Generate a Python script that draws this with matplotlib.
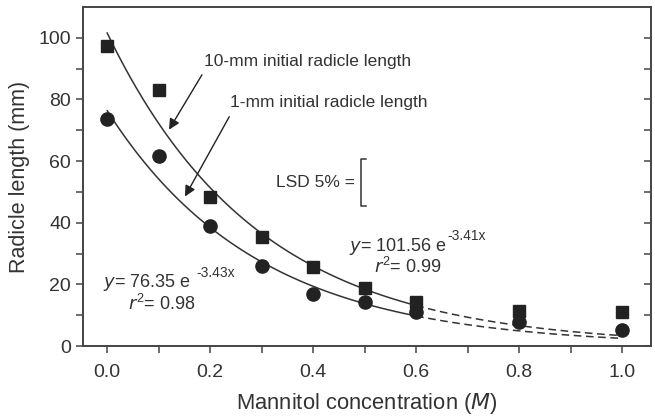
import numpy as np
import matplotlib
matplotlib.use("Agg")
import matplotlib.pyplot as plt

plt.rcParams['font.family'] = ['Liberation Sans', 'DejaVu Sans']

# Mannitol concentration (M)
conc = [0.0, 0.1, 0.2, 0.3, 0.4, 0.5, 0.6, 0.8, 1.0]
# radicle length (mm), 10-mm initial radicle
len_10mm = [97.5, 83.2, 48.2, 35.3, 25.6, 18.8, 14.2, 11.2, 11.0]
# radicle length (mm), 1-mm initial radicle
len_1mm = [73.8, 61.5, 38.8, 25.9, 16.8, 14.2, 11.0, 7.8, 5.2]

# exponential fits y = a * exp(b x) printed on the chart
fit_10mm = [101.56, -3.41]
fit_1mm = [76.35, -3.43]
fit_end = 0.6   # solid up to here, dashed beyond
lsd = 15.2

grey = '#333333'

fig = plt.figure(figsize=(6.55, 4.19), dpi=100)
ax = fig.add_axes([83/655, (419-346)/419, (651-83)/655, (346-7)/419])

# fitted curves
for a, b in (fit_10mm, fit_1mm):
    xs = np.linspace(0, fit_end, 100)
    ax.plot(xs, a*np.exp(b*xs), color=grey, lw=1.1)
    xd = np.linspace(fit_end, 1.0, 60)
    ax.plot(xd, a*np.exp(b*xd), color=grey, lw=1.1, ls=(0, (5, 3)))

ax.plot(conc, len_10mm, 's', color='#222222', ms=8.8, mec='#222222')
ax.plot(conc, len_1mm, 'o', color='#222222', ms=9.5, mec='#222222')

ax.set_xlim(-0.047, 1.056)
ax.set_ylim(0, 110)
ax.set_xticks([0, 0.2, 0.4, 0.6, 0.8, 1.0])
ax.set_xticklabels(['0.0', '0.2', '0.4', '0.6', '0.8', '1.0'])
ax.set_xticks(np.arange(0.1, 1.0, 0.2), minor=True)
ax.set_yticks([0, 20, 40, 60, 80, 100])
ax.set_yticks([10, 30, 50, 70, 90], minor=True)

for s in ax.spines.values():
    s.set_color('#444444')
    s.set_linewidth(1.4)

ax.tick_params(which='both', direction='out', length=5, width=1.1, color='#444444',
               labelsize=14, labelcolor=grey, top=False, right=False)
ax.tick_params(axis='x', pad=8)

# inward ticks on the right spine
ax2 = ax.twinx()
ax2.set_ylim(ax.get_ylim())
ax2.set_yticks([0, 20, 40, 60, 80, 100])
ax2.set_yticks([10, 30, 50, 70, 90], minor=True)
ax2.tick_params(which='both', direction='in', length=5, width=1.1, color='#444444',
                labelright=False)
for s in ax2.spines.values():
    s.set_visible(False)

ax.set_xlabel('Mannitol concentration ($\\it{M}$)', fontsize=15.8, color=grey, labelpad=7)
ax.set_ylabel('Radicle length (mm)', fontsize=15.5, color=grey, labelpad=6)

# labels and arrows
arrow = dict(arrowstyle='-|>', color='#222222', lw=1.0, mutation_scale=16,
             shrinkA=0, shrinkB=0)
ax.text(0.188, 92.2, '10-mm initial radicle length', fontsize=12.5, color=grey,
        va='center', ha='left')
ax.annotate('', xy=(0.120, 70.2), xytext=(0.184, 88.0), arrowprops=arrow)
ax.text(0.239, 79.0, '1-mm initial radicle length', fontsize=12.5, color=grey,
        va='center', ha='left')
ax.annotate('', xy=(0.151, 48.5), xytext=(0.237, 74.4), arrowprops=arrow)

# LSD bracket
lsd_y = 53.0
ax.text(0.482, lsd_y, 'LSD 5% =', fontsize=12.5, color=grey, va='center', ha='right')
ax.plot([0.503, 0.492, 0.492, 0.503],
        [lsd_y + lsd/2, lsd_y + lsd/2, lsd_y - lsd/2, lsd_y - lsd/2],
        color=grey, lw=1.1)


def equation(x, y, coef, r2):
    t = ax.text(x, y, '$\\it{y}$= %.2f e\n     $\\it{r}^{\\mathregular{2}}$= %.2f'
                % (coef[0], r2), fontsize=13, color=grey, va='center', ha='left',
                linespacing=1.0)
    ax.annotate('%.2fx' % coef[1], xy=(1, 1), xycoords=t, xytext=(0.5, -3.0),
                textcoords='offset points', fontsize=10, color=grey,
                va='baseline', ha='left')


equation(0.470, 29.0, fit_10mm, 0.99)
equation(-0.008, 17.2, fit_1mm, 0.98)

fig.savefig('out.png', dpi=100)
